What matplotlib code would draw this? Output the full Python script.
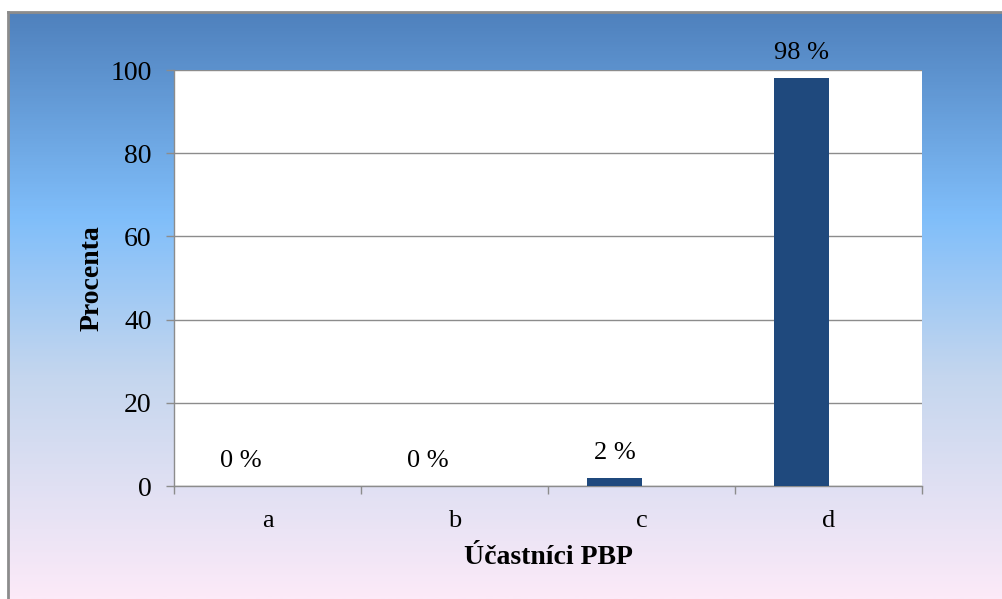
import numpy as np
import matplotlib
matplotlib.use('Agg')
import matplotlib.pyplot as plt
from matplotlib.colors import LinearSegmentedColormap

categories = ['a', 'b', 'c', 'd']
values = [0, 0, 2, 98]
labels = ['0 %', '0 %', '2 %', '98 %']

plt.rcParams['font.family'] = ['Liberation Serif', 'DejaVu Serif']

fig = plt.figure(figsize=(10.03, 5.99), dpi=100)
fig.patch.set_facecolor('white')

# chart frame with vertical gradient fill
bg = fig.add_axes([8 / 1003, 0, 1 - 8 / 1003, 1 - 12 / 599])
grad = LinearSegmentedColormap.from_list('bg', [
    (0.0, (79 / 255, 129 / 255, 189 / 255)),
    (0.35, (128 / 255, 190 / 255, 250 / 255)),
    (0.62, (196 / 255, 214 / 255, 238 / 255)),
    (1.0, (252 / 255, 234 / 255, 248 / 255)),
])
bg.imshow(np.linspace(0, 1, 300).reshape(-1, 1), aspect='auto', cmap=grad,
          extent=[0, 1, 0, 1], origin='upper')
bg.set_xlim(0, 1)
bg.set_ylim(0, 1)
bg.set_xticks([])
bg.set_yticks([])
for side in ['right', 'bottom']:
    bg.spines[side].set_visible(False)
for side in ['left', 'top']:
    bg.spines[side].set_color('#8c8c8c')
    bg.spines[side].set_linewidth(2)

ax = fig.add_axes([174 / 1003, 1 - 486 / 599, (922 - 174) / 1003, (486 - 70) / 599])
ax.set_facecolor('white')

x = np.arange(len(categories))
bw = 0.29
ax.bar(x - bw / 2, values, width=bw, color='#1F497D', zorder=3)

for xi, v, lab in zip(x, values, labels):
    ax.annotate(lab, (xi - bw / 2, v), xytext=(0, 10), textcoords='offset points',
                ha='center', va='bottom', fontsize=19)

ax.set_xlim(-0.5, 3.5)
ax.set_ylim(0, 100)
ax.set_yticks([0, 20, 40, 60, 80, 100])
ax.yaxis.grid(True, color='#8c8c8c', linewidth=1, zorder=0)
ax.set_xticks(x)
ax.set_xticklabels(categories)
ax.set_xticks(np.arange(-0.5, 4, 1), minor=True)
ax.tick_params(axis='x', which='major', length=0, pad=17, labelsize=19)
ax.tick_params(axis='x', which='minor', length=6, color='#8c8c8c', width=1)
ax.tick_params(axis='y', length=6, color='#8c8c8c', width=1, pad=10, labelsize=20)

for side in ['top', 'right']:
    ax.spines[side].set_visible(False)
for side in ['left', 'bottom']:
    ax.spines[side].set_color('#8c8c8c')
    ax.spines[side].set_linewidth(1)

ax.set_ylabel('Procenta', fontsize=20, fontweight='bold', labelpad=4)
ax.set_xlabel('Účastníci PBP', fontsize=20, fontweight='bold', labelpad=10)

fig.savefig('out.png', dpi=100)
